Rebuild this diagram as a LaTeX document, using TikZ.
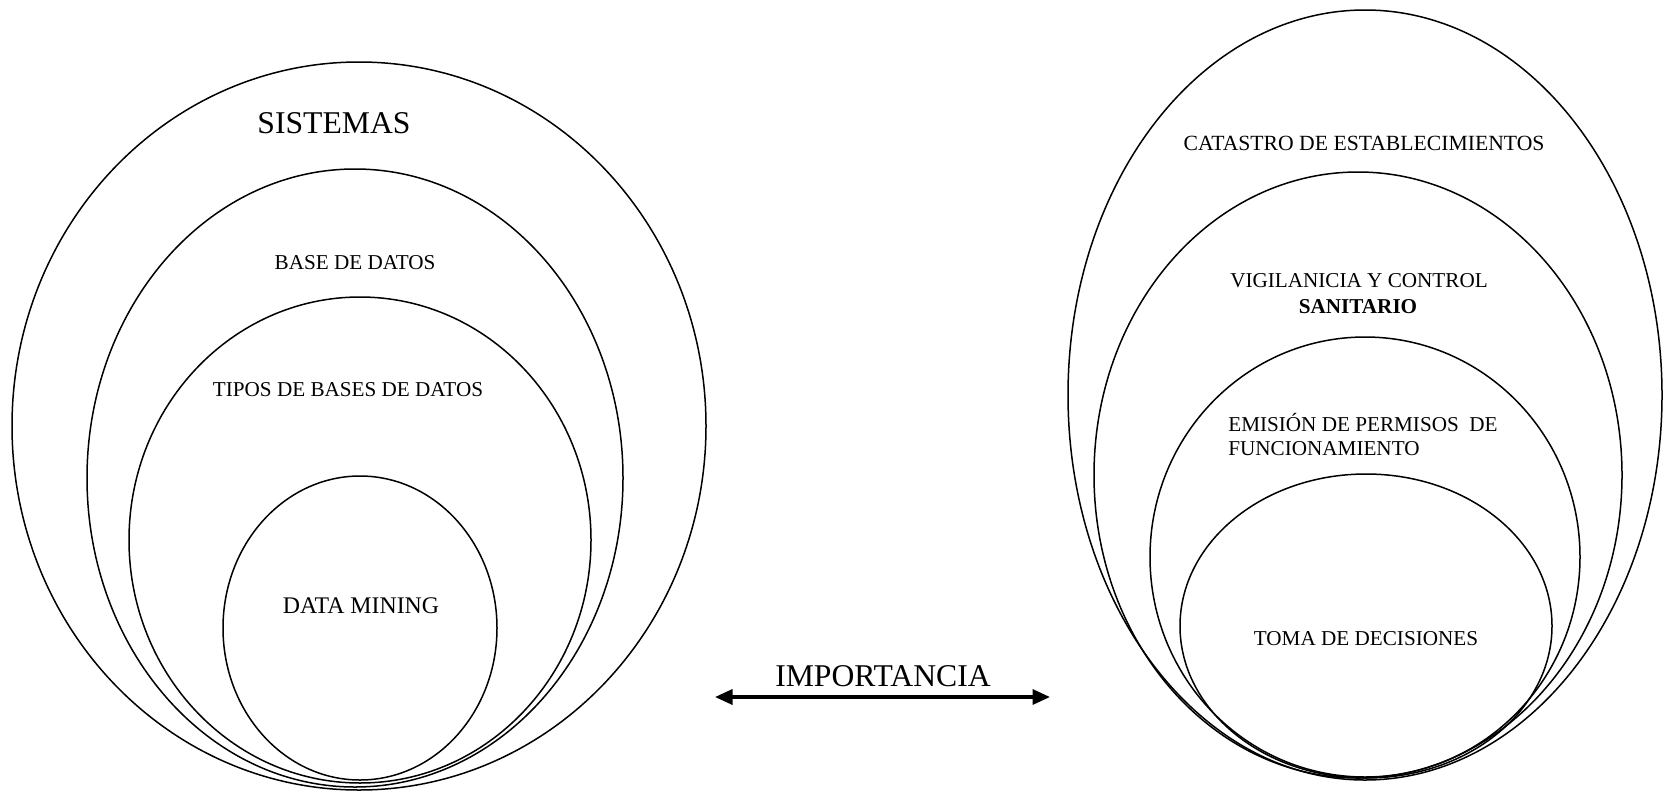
\documentclass[tikz,border=0pt]{standalone}
\usepackage{fontspec}
\setmainfont{Liberation Serif}
\usetikzlibrary{arrows.meta}
\tikzset{
  ring/.style={draw=black, line width=0.9pt},
  lbl/.style={font=\fontsize{12.7}{15.6}\selectfont, inner sep=0pt, anchor=base},
  biglbl/.style={font=\fontsize{19}{23}\selectfont, inner sep=0pt, anchor=base},
  twoway/.style={line width=2pt, {Triangle[length=10.5pt,width=9pt]}-{Triangle[length=10.5pt,width=9pt]}}
}
\begin{document}
\begin{tikzpicture}[x=0.6pt, y=-0.6pt]
\useasboundingbox (0,0) rectangle (1668,792);

% left set of nested ellipses
\draw[ring] (359,426) ellipse [x radius=347*0.6pt, y radius=364*0.6pt];
\draw[ring] (355,478) ellipse [x radius=268*0.6pt, y radius=309*0.6pt];
\draw[ring] (360,540) ellipse [x radius=231*0.6pt, y radius=243*0.6pt];
\draw[ring] (360,628) ellipse [x radius=137*0.6pt, y radius=152*0.6pt];

\node[biglbl] (sis) at (334,133.5) {SISTEMAS};
\node[lbl] (bd) at (355,269) {BASE DE DATOS};
\node[lbl] (tipos) at (348,396) {TIPOS DE BASES DE DATOS};
\node[lbl, font=\fontsize{14.3}{17}\selectfont] (dm) at (361,613) {DATA MINING};

% right set of nested ellipses
\draw[ring] (1365,395) ellipse [x radius=297*0.6pt, y radius=385*0.6pt];
\draw[ring] (1358,475) ellipse [x radius=264*0.6pt, y radius=303*0.6pt];
\draw[ring] (1365,557) ellipse [x radius=215*0.6pt, y radius=220*0.6pt];
\draw[ring] (1366,626) ellipse [x radius=186*0.6pt, y radius=152*0.6pt];

\node[lbl, font=\fontsize{13}{15.6}\selectfont] (cat) at (1364,150) {CATASTRO DE ESTABLECIMIENTOS};
\node[lbl] (vig) at (1359,287) {VIGILANICIA Y CONTROL};
\node[lbl] (san) at (1358,313) {\bfseries SANITARIO};
\node[lbl, anchor=base west] (emi) at (1228,431) {EMISIÓN DE PERMISOS\ \ DE};
\node[lbl, anchor=base west] (fun) at (1228,455) {FUNCIONAMIENTO};
\node[lbl] (toma) at (1366,645) {TOMA DE DECISIONES};

% double-headed arrow between the two sets
\node[biglbl] (imp) at (883,686.5) {IMPORTANCIA};
\coordinate (aL) at (715,697);
\coordinate (aR) at (1050,697);
\draw[twoway] (aL) -- (aR);
\end{tikzpicture}
\end{document}
